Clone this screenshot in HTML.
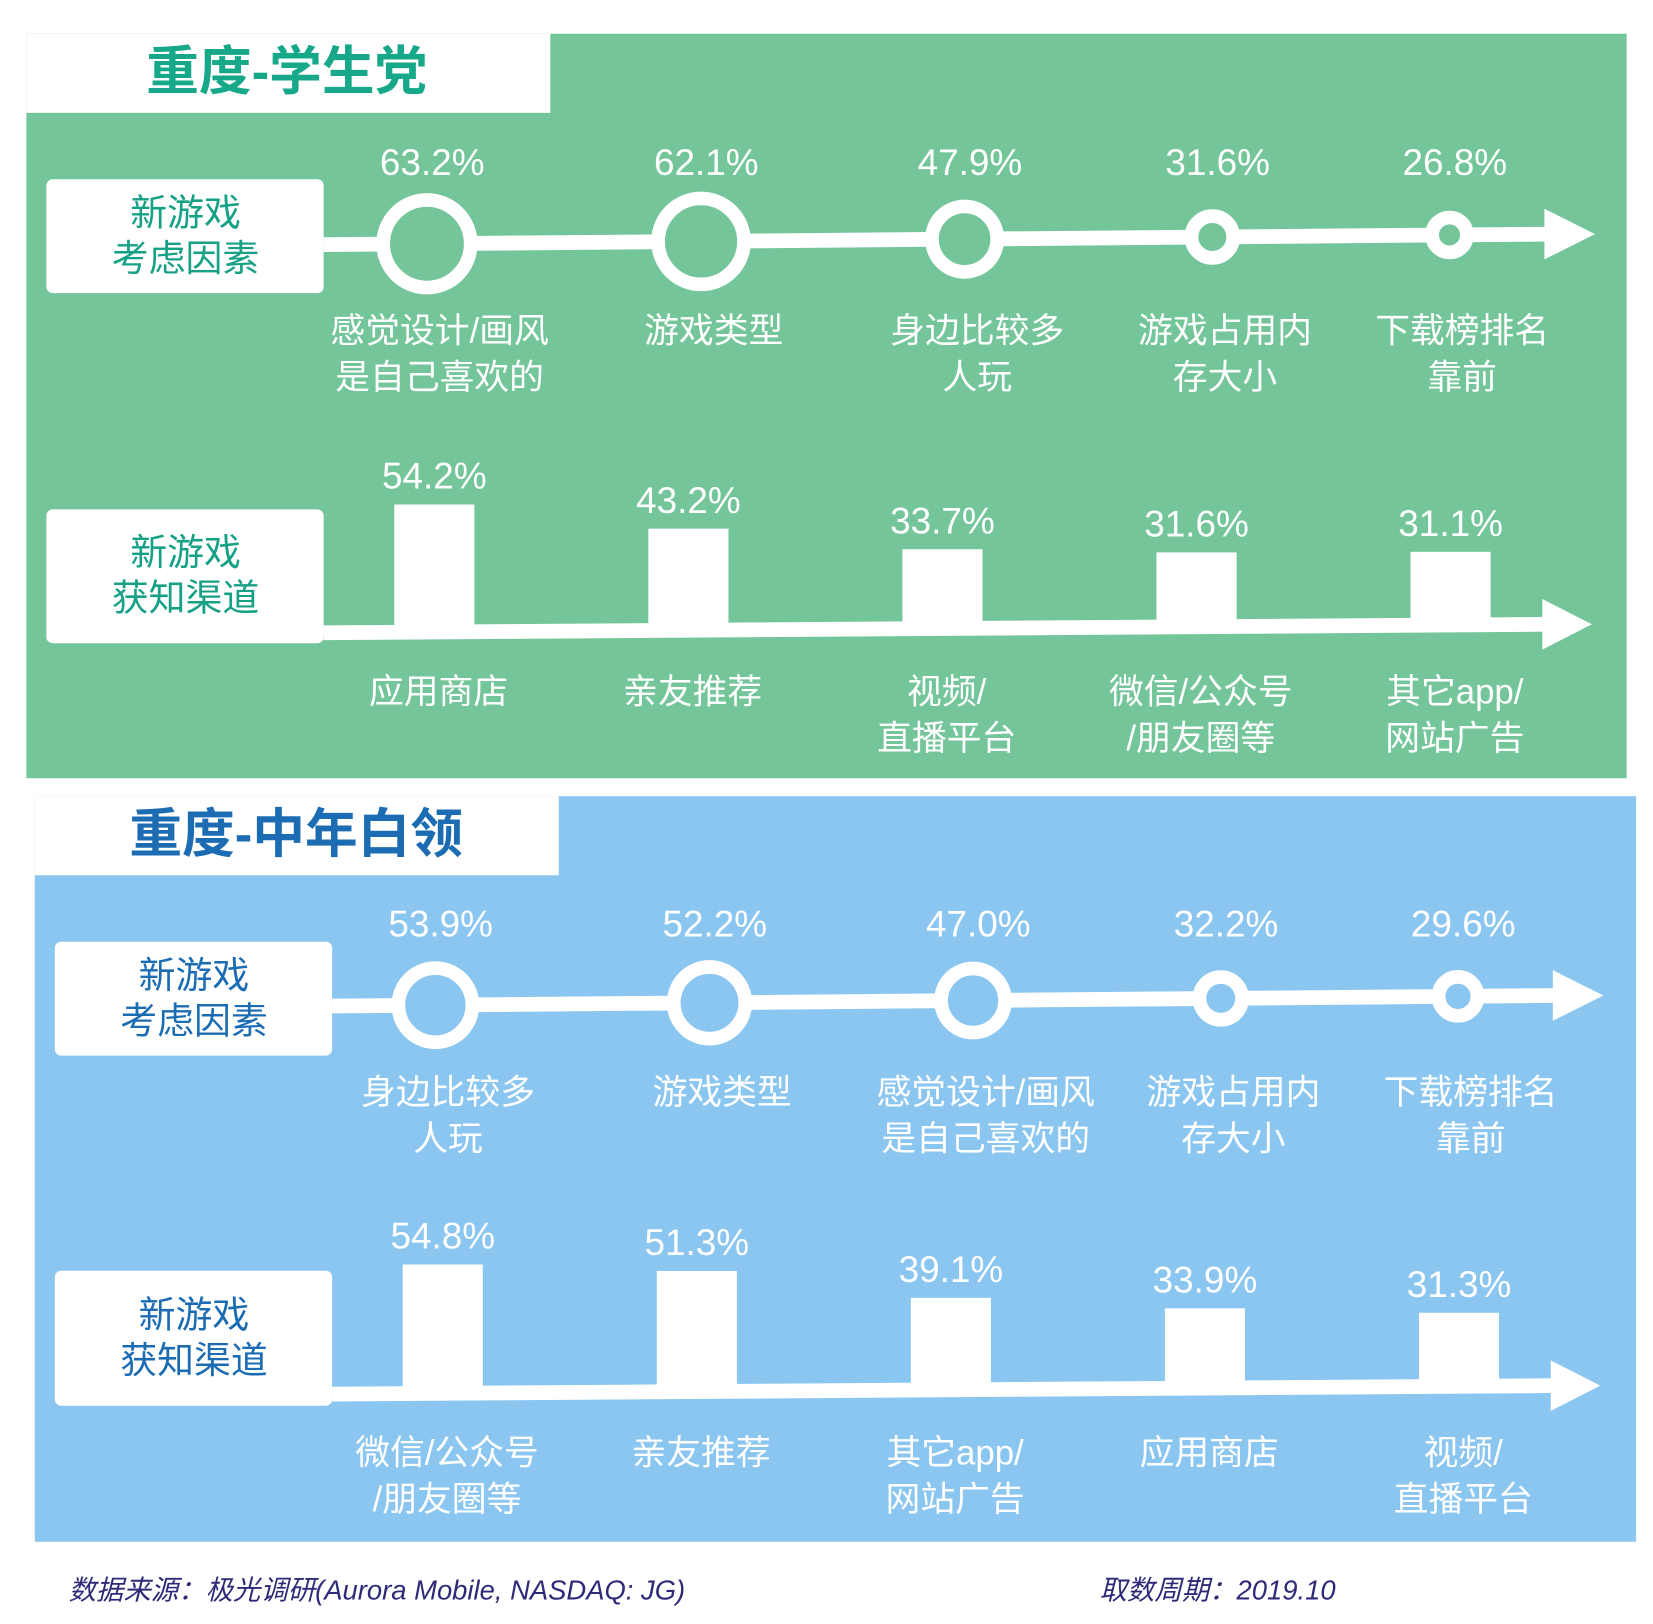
<!DOCTYPE html>
<html><head><meta charset="utf-8"><style>
html,body{margin:0;padding:0;background:#fff;}
svg{display:block;}
text{font-family:"Liberation Sans","Noto Sans CJK SC",sans-serif;}
</style></head><body>
<svg id="chart" width="1653" height="1624" viewBox="0 0 1568 1540" preserveAspectRatio="none" xmlns="http://www.w3.org/2000/svg">
<rect x="0" y="0" width="1568" height="1540" fill="#fff"/>
<!-- Green panel -->
<g>
<rect x="25" y="32" width="1518" height="706" fill="#74c69a"/>
<rect x="25" y="32" width="497" height="75" fill="#fff"/>
<text x="272" y="85" text-anchor="middle" font-size="50" font-weight="bold" fill="#17a88a">重度-学生党</text>
<rect x="44" y="170" width="263" height="108" rx="6" fill="#fff"/>
<text x="176" y="214" text-anchor="middle" font-size="35" fill="#16a086"><tspan x="176">新游戏</tspan><tspan x="176" dy="43">考虑因素</tspan></text>
<rect x="44" y="483" width="263" height="127" rx="6" fill="#fff"/>
<text x="176" y="536" text-anchor="middle" font-size="35" fill="#16a086"><tspan x="176">新游戏</tspan><tspan x="176" dy="43">获知渠道</tspan></text>
<g id="g1"></g>
</g>
<!-- Blue panel -->
<g>
<rect x="33" y="755" width="1519" height="707" fill="#8ac6f0"/>
<rect x="33" y="755" width="497" height="75" fill="#fff"/>
<text x="281" y="808" text-anchor="middle" font-size="50" font-weight="bold" fill="#1c6cb3">重度-中年白领</text>
<rect x="52" y="893" width="263" height="108" rx="6" fill="#fff"/>
<text x="184" y="937" text-anchor="middle" font-size="35" fill="#1c6cb3"><tspan x="184">新游戏</tspan><tspan x="184" dy="43">考虑因素</tspan></text>
<rect x="52" y="1205" width="263" height="128" rx="6" fill="#fff"/>
<text x="184" y="1259" text-anchor="middle" font-size="35" fill="#1c6cb3"><tspan x="184">新游戏</tspan><tspan x="184" dy="43">获知渠道</tspan></text>
<g id="g2"></g>
</g>
<text x="65" y="1517" font-size="26" font-style="italic" fill="#2e2a78">数据来源：极光调研(Aurora Mobile, NASDAQ: JG)</text>
<text x="1043" y="1517" font-size="26" font-style="italic" fill="#2e2a78">取数周期：2019.10</text>
</svg>
<script>
// Student panel data
const s1FactorCats = [["感觉设计/画风","是自己喜欢的"],["游戏类型"],["身边比较多","人玩"],["游戏占用内","存大小"],["下载榜排名","靠前"]];
const s1FactorVals = [63.2, 62.1, 47.9, 31.6, 26.8];
const s1ChannelCats = [["应用商店"],["亲友推荐"],["视频/","直播平台"],["微信/公众号","/朋友圈等"],["其它app/","网站广告"]];
const s1ChannelVals = [54.2, 43.2, 33.7, 31.6, 31.1];
// White-collar panel data
const s2FactorCats = [["身边比较多","人玩"],["游戏类型"],["感觉设计/画风","是自己喜欢的"],["游戏占用内","存大小"],["下载榜排名","靠前"]];
const s2FactorVals = [53.9, 52.2, 47.0, 32.2, 29.6];
const s2ChannelCats = [["微信/公众号","/朋友圈等"],["亲友推荐"],["其它app/","网站广告"],["应用商店"],["视频/","直播平台"]];
const s2ChannelVals = [54.8, 51.3, 39.1, 33.9, 31.3];

const NS = "http://www.w3.org/2000/svg";
function mk(tag, attrs, parent){const e=document.createElementNS(NS,tag);for(const k in attrs)e.setAttribute(k,attrs[k]);parent.appendChild(e);return e;}
function rScale(v){return 4.6 + 0.687*v;}
function hScale(v){return 2.23*v;}

function drawPanel(g, ox, oy, fCats, fVals, cCats, cVals, bg){
  const xs = [0,1,2,3,4].map(i=>ox+405+[0,260,510,745,970][i]);
  // factor row
  const lineY0 = oy+232, lineY1 = oy+222;
  const fl = mk('polygon',{points:`${ox+307},${lineY0-7} ${ox+1470},${lineY1-7} ${ox+1470},${lineY1+7} ${ox+307},${lineY0+7}`,fill:'#fff'},g);
  
  
  const fa = mk('polygon',{points:`${ox+1465},${lineY1-24} ${ox+1513},${lineY1} ${ox+1465},${lineY1+24}`,fill:'#fff'},g);
  
  
  fVals.forEach((v,i)=>{
    const x=xs[i]; const cy = lineY0 + (lineY1-lineY0)*(x-ox-307)/1163;
    const r=rScale(v);
    const c=mk('circle',{cx:x,cy:cy,r:r-6.5,fill:bg,stroke:'#fff','stroke-width':13},g);
    
    
    const t=mk('text',{x:x+5,y:oy+166,'text-anchor':'middle','font-size':35,fill:'#fff'},g);
    t.textContent=v.toFixed(1)+'%';
    
    
    fCats[i].forEach((ln,j)=>{
      const tl=mk('text',{x:x+12,y:oy+325+j*44,'text-anchor':'middle','font-size':33,fill:'#fff'},g);
      tl.textContent=ln;
      
      
    });
  });
  // channel row
  const bx = [0,1,2,3,4].map(i=>ox+412+i*241);
  const bY0 = oy+600, bY1 = oy+592;
  const cl = mk('polygon',{points:`${ox+307},${bY0-7} ${ox+1468},${bY1-7} ${ox+1468},${bY1+7} ${ox+307},${bY0+7}`,fill:'#fff'},g);
  
  
  const ca = mk('polygon',{points:`${ox+1463},${bY1-24} ${ox+1510},${bY1} ${ox+1463},${bY1+24}`,fill:'#fff'},g);
  
  
  cVals.forEach((v,i)=>{
    const x=bx[i]; const base = bY0 + (bY1-bY0)*(x-ox-307)/1161;
    const h=hScale(v);
    const b=mk('rect',{x:x-38,y:base-h,width:76,height:h,fill:'#fff'},g);
    
    
    const t=mk('text',{x:x,y:base-h-15,'text-anchor':'middle','font-size':35,fill:'#fff'},g);
    t.textContent=v.toFixed(1)+'%';
    
    
    cCats[i].forEach((ln,j)=>{
      const tl=mk('text',{x:x+4,y:oy+667+j*44,'text-anchor':'middle','font-size':33,fill:'#fff'},g);
      tl.textContent=ln;
      
      
    });
  });
}
drawPanel(document.getElementById('g1'),0,0,s1FactorCats,s1FactorVals,s1ChannelCats,s1ChannelVals,'#74c69a');
drawPanel(document.getElementById('g2'),8,722,s2FactorCats,s2FactorVals,s2ChannelCats,s2ChannelVals,'#8ac6f0');
</script>
</body></html>
